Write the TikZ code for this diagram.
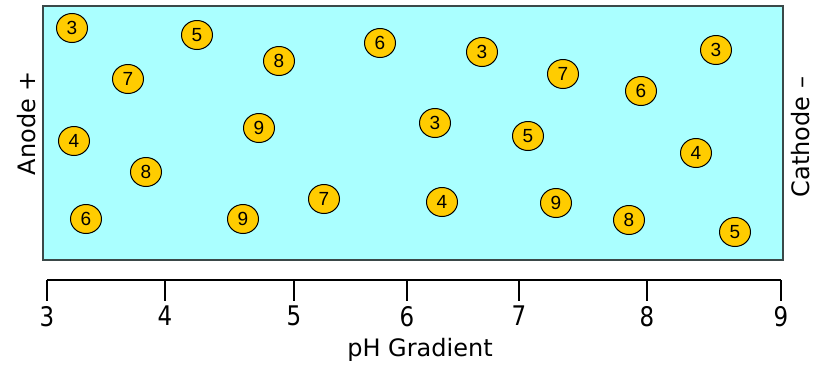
\documentclass[tikz,border=0pt]{standalone}
\usepackage{fontspec}
\setmainfont{DejaVu Sans}
\newfontfamily\ionfont{Liberation Sans}
\newfontfamily\tickfont[FakeStretch=0.85]{DejaVu Sans}
\usetikzlibrary{shapes.geometric}

\definecolor{gelcyan}{HTML}{AAFFFF}
\definecolor{ionyellow}{HTML}{FFCC00}
\definecolor{gelborder}{HTML}{3A4848}

\begin{document}
\begin{tikzpicture}[
x=1pt,
y=-1pt,
ion/.style={
draw=black,
fill=ionyellow,
ellipse,
line width=1pt,
inner sep=0pt,
minimum width=31pt,
minimum height=29pt,
font=\ionfont\fontsize{19}{19}\selectfont
},
side/.style={
rotate=90,
anchor=base,
inner sep=0pt,
font=\fontsize{24}{24}\selectfont
},
ticklabel/.style={
anchor=north,
inner sep=0pt,
font=\tickfont\fontsize{27}{27}\selectfont
}
]

\useasboundingbox (0,0) rectangle (816,370);


% Gel strip

\draw[gelborder, fill=gelcyan, line width=2pt] (43,6) rectangle (783,260);


% Proteins

\foreach \lbl/\x/\y [count=\i] in {
3/72/28, 5/197/35, 8/279/61, 7/128/79, 6/380/43, 3/482/52,
7/563/74, 6/641/91, 3/716/50, 4/74/141, 9/259/128, 3/435/123,
5/528/136, 4/696/153, 8/146/172, 6/86/219, 9/243/219, 7/324/199,
4/442/202, 9/556/203, 8/629/220, 5/735/232
}
\node (ion\i) [ion] at (\x,\y) {\lbl};


% Electrodes

\node (anode) [side] at (35,123) {Anode +};

\node (cathode) [side] at (809,137) {Cathode –};


% pH axis

\draw[line width=1.6pt] (47,280) -- (781,280);

\foreach \ph/\x in {3/47, 4/165, 5/294, 6/407, 7/519, 8/647, 9/781}
{
\draw[line width=1.4pt] (\x,280) -- (\x,301);
\node (tick\ph) [ticklabel] at (\x,306) {\ph};
}

\node (phlabel) [anchor=base, font=\fontsize{24}{24}\selectfont] at (420,356)
{pH Gradient};


\end{tikzpicture}
\end{document}
